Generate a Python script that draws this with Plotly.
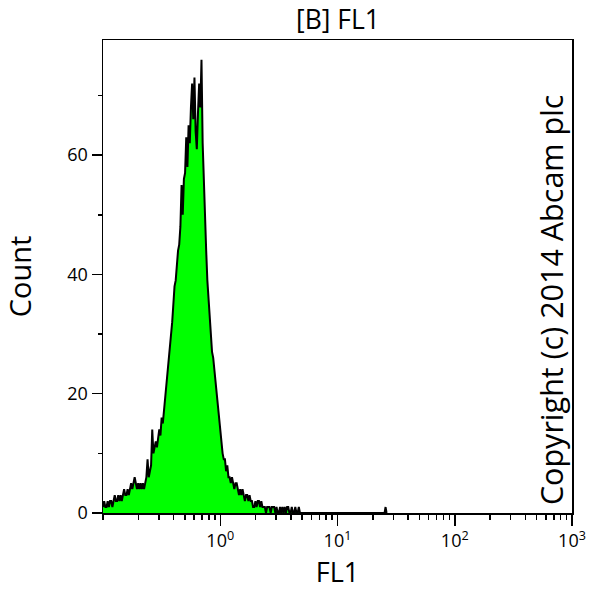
import plotly.graph_objects as go

# FL1 histogram: channels of 0.01 decade starting at 10^-1
log_start = -1.0
channels_per_decade = 100
counts = [
    1, 2, 1, 1, 2, 1, 2, 2, 1, 2,      # -1.00 .. -0.91
    3, 2, 2, 3, 2, 3, 2, 3, 4, 3,      # -0.90 .. -0.81
    3, 4, 3, 4, 5, 4, 5, 6, 5, 4,      # -0.80 .. -0.71
    5, 4, 5, 4, 5, 4, 5, 6, 9, 6,      # -0.70 .. -0.61
    7, 8, 14, 10, 11, 12, 11, 13, 14, 13,   # -0.60 .. -0.51
    16, 15, 17, 20, 21, 24, 25, 27, 30, 32,  # -0.50 .. -0.41
    35, 38, 39, 42, 44, 45, 48, 55, 50, 56,  # -0.40 .. -0.31
    57, 63, 58, 65, 62, 68, 72, 66, 73, 64,  # -0.30 .. -0.21
    61, 67, 72, 68, 76, 62, 55, 50, 44, 39,  # -0.20 .. -0.11
    36, 33, 30, 27, 26, 24, 22, 20, 18, 16,  # -0.10 .. -0.01
    13, 12, 10, 9, 9, 7, 8, 6, 6, 5,         # 0.00 .. 0.09
    6, 5, 4, 5, 5, 4, 3, 4, 3, 4,            # 0.10 .. 0.19
    3, 2, 3, 3, 2, 3, 2, 2, 1, 1,            # 0.20 .. 0.29
    2, 1, 2, 2, 1, 2, 1, 1, 1, 0,            # 0.30 .. 0.39
    1, 1, 1, 0, 1, 1, 1, 0, 1, 0,            # 0.40 .. 0.49
    0, 1, 0, 1, 0, 1, 0, 1, 1, 0,            # 0.50 .. 0.59
    0, 1, 0, 0, 1, 0, 0, 1, 0, 0,            # 0.60 .. 0.69
    0,                                       # 0.70
]
# isolated event further out
tail_fl1 = [25.2, 25.7, 26.2]
tail_counts = [0, 1, 0]

x_tick_vals = [1, 10, 100, 1000]
x_tick_text = ["10<sup>0</sup>", "10<sup>1</sup>", "10<sup>2</sup>", "10<sup>3</sup>"]
y_tick_vals = [0, 20, 40, 60]

fl1 = [10 ** (log_start + i / channels_per_decade) for i in range(len(counts))]
xs = fl1 + tail_fl1
ys = counts + tail_counts

FONT = "Open Sans"

fig = go.Figure()
fig.add_trace(go.Scatter(
    x=xs, y=ys, mode="lines",
    line=dict(color="black", width=2),
    fill="tozeroy", fillcolor="#00FF00",
    hoverinfo="skip", showlegend=False,
))

fig.update_layout(
    width=598, height=600,
    margin=dict(l=103, r=21, t=40, b=87),
    paper_bgcolor="white", plot_bgcolor="white",
    font=dict(family=FONT, color="black"),
    showlegend=False,
)

fig.update_xaxes(
    type="log", range=[-1, 3],
    tickvals=x_tick_vals, ticktext=x_tick_text,
    ticks="outside", ticklen=11, tickwidth=1.5, tickcolor="black",
    showline=True, linecolor="black", linewidth=1.5, mirror=True,
    showgrid=False, zeroline=False,
    tickfont=dict(size=18, family=FONT),
    minor=dict(ticks="outside", ticklen=5, tickwidth=1.5, tickcolor="black",
               dtick="D1", showgrid=False),
    title=dict(text="FL1", font=dict(size=27, family=FONT), standoff=12),
)
fig.update_yaxes(
    range=[0, 79.3],
    tickvals=y_tick_vals,
    ticks="outside", ticklen=10, tickwidth=1.5, tickcolor="black",
    showline=True, linecolor="black", linewidth=1.5, mirror=True,
    showgrid=False, zeroline=False,
    tickfont=dict(size=18, family=FONT),
    minor=dict(ticks="outside", ticklen=4, tickwidth=1.5, tickcolor="black",
               dtick=10, showgrid=False),
    title=dict(text="Count", font=dict(size=29, family=FONT), standoff=28),
)

# chart title
fig.add_annotation(
    text="[B] FL1", xref="paper", yref="paper", x=0.5, y=1.044,
    xanchor="center", yanchor="middle", showarrow=False,
    font=dict(size=26.5, family=FONT, color="black"),
)

fig.add_annotation(
    text="Copyright (c) 2014 Abcam plc",
    xref="paper", yref="paper", x=0.955, y=0.452,
    xanchor="center", yanchor="middle",
    textangle=-90, showarrow=False,
    font=dict(size=30.5, family=FONT, color="black"),
)

fig.write_html(
    "out.html",
    config={"displayModeBar": False, "staticPlot": True},
    post_script="document.body.style.margin='0';document.body.style.overflow='hidden';",
)
